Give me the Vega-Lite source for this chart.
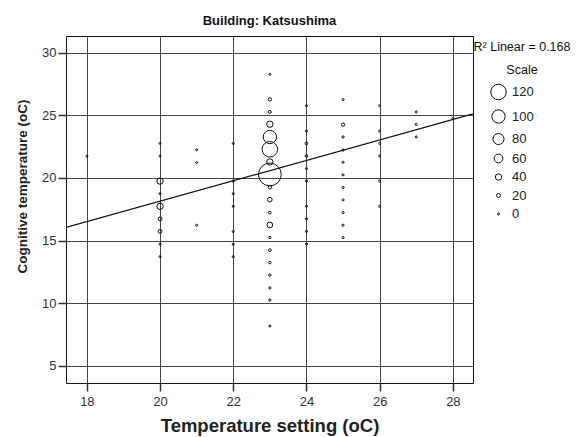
{
  "$schema": "https://vega.github.io/schema/vega-lite/v6.json",
  "width": 407,
  "height": 347,
  "autosize": "none",
  "padding": {"left": 66, "top": 36, "right": 106, "bottom": 54},
  "background": "white",
  "title": {
    "text": "Building: Katsushima",
    "font": "Liberation Sans",
    "fontSize": 13,
    "fontWeight": "bold",
    "color": "#111",
    "anchor": "middle",
    "baseline": "alphabetic",
    "offset": -2
  },
  "config": {
    "view": {"stroke": "#111", "strokeWidth": 1},
    "axis": {
      "labelFont": "Liberation Sans",
      "labelFontSize": 13,
      "labelColor": "#333",
      "tickColor": "#333",
      "tickSize": 8,
      "tickWidth": 1.5,
      "domain": false,
      "grid": true,
      "gridColor": "#444",
      "gridWidth": 1,
      "gridOpacity": 1,
      "titleFont": "Liberation Sans",
      "titleFontWeight": "bold",
      "titleColor": "#222"
    },
    "legend": {
      "labelFont": "Liberation Sans",
      "titleFont": "Liberation Sans"
    }
  },
  "datasets": {
    "pts": [
      {"setting": 18, "cognitive": 21.74, "n": 1},
      {"setting": 20, "cognitive": 22.76, "n": 1},
      {"setting": 20, "cognitive": 21.74, "n": 1},
      {"setting": 20, "cognitive": 19.75, "n": 40},
      {"setting": 20, "cognitive": 18.75, "n": 2},
      {"setting": 20, "cognitive": 17.74, "n": 40},
      {"setting": 20, "cognitive": 16.74, "n": 20},
      {"setting": 20, "cognitive": 15.74, "n": 20},
      {"setting": 20, "cognitive": 14.72, "n": 3},
      {"setting": 20, "cognitive": 13.72, "n": 3},
      {"setting": 21, "cognitive": 22.25, "n": 1},
      {"setting": 21, "cognitive": 21.23, "n": 1},
      {"setting": 21, "cognitive": 16.23, "n": 1},
      {"setting": 22, "cognitive": 22.76, "n": 3},
      {"setting": 22, "cognitive": 19.76, "n": 5},
      {"setting": 22, "cognitive": 18.75, "n": 3},
      {"setting": 22, "cognitive": 17.74, "n": 3},
      {"setting": 22, "cognitive": 15.73, "n": 3},
      {"setting": 22, "cognitive": 14.71, "n": 3},
      {"setting": 22, "cognitive": 13.72, "n": 3},
      {"setting": 23, "cognitive": 28.27, "n": 2},
      {"setting": 23, "cognitive": 26.27, "n": 15},
      {"setting": 23, "cognitive": 25.27, "n": 12},
      {"setting": 23, "cognitive": 24.29, "n": 40},
      {"setting": 23, "cognitive": 23.27, "n": 100},
      {"setting": 23, "cognitive": 22.29, "n": 120},
      {"setting": 23, "cognitive": 21.28, "n": 40},
      {"setting": 23, "cognitive": 20.28, "n": 190},
      {"setting": 23, "cognitive": 19.26, "n": 15},
      {"setting": 23, "cognitive": 18.27, "n": 25},
      {"setting": 23, "cognitive": 17.24, "n": 10},
      {"setting": 23, "cognitive": 16.25, "n": 35},
      {"setting": 23, "cognitive": 15.25, "n": 5},
      {"setting": 23, "cognitive": 14.24, "n": 10},
      {"setting": 23, "cognitive": 13.25, "n": 8},
      {"setting": 23, "cognitive": 12.25, "n": 8},
      {"setting": 23, "cognitive": 11.23, "n": 5},
      {"setting": 23, "cognitive": 10.26, "n": 5},
      {"setting": 23, "cognitive": 8.19, "n": 3},
      {"setting": 24, "cognitive": 25.77, "n": 2},
      {"setting": 24, "cognitive": 23.75, "n": 3},
      {"setting": 24, "cognitive": 22.76, "n": 10},
      {"setting": 24, "cognitive": 21.76, "n": 10},
      {"setting": 24, "cognitive": 20.75, "n": 3},
      {"setting": 24, "cognitive": 19.76, "n": 3},
      {"setting": 24, "cognitive": 17.74, "n": 3},
      {"setting": 24, "cognitive": 16.74, "n": 3},
      {"setting": 24, "cognitive": 15.74, "n": 3},
      {"setting": 24, "cognitive": 14.73, "n": 3},
      {"setting": 25, "cognitive": 26.26, "n": 2},
      {"setting": 25, "cognitive": 24.26, "n": 15},
      {"setting": 25, "cognitive": 23.27, "n": 5},
      {"setting": 25, "cognitive": 22.23, "n": 3},
      {"setting": 25, "cognitive": 21.25, "n": 3},
      {"setting": 25, "cognitive": 20.25, "n": 3},
      {"setting": 25, "cognitive": 19.24, "n": 3},
      {"setting": 25, "cognitive": 18.25, "n": 3},
      {"setting": 25, "cognitive": 17.24, "n": 3},
      {"setting": 25, "cognitive": 16.23, "n": 3},
      {"setting": 25, "cognitive": 15.24, "n": 3},
      {"setting": 26, "cognitive": 25.77, "n": 2},
      {"setting": 26, "cognitive": 23.75, "n": 3},
      {"setting": 26, "cognitive": 22.76, "n": 3},
      {"setting": 26, "cognitive": 21.76, "n": 3},
      {"setting": 26, "cognitive": 19.76, "n": 3},
      {"setting": 26, "cognitive": 17.74, "n": 3},
      {"setting": 27, "cognitive": 25.27, "n": 3},
      {"setting": 27, "cognitive": 24.28, "n": 5},
      {"setting": 27, "cognitive": 23.27, "n": 3},
      {"setting": 28, "cognitive": 24.76, "n": 2}
    ],
    "fit": [
      {"setting": 17.43, "cognitive": 16.05},
      {"setting": 28.55, "cognitive": 25.11}
    ]
  },
  "layer": [
    {
      "data": {"name": "fit"},
      "mark": {"type": "line", "color": "#111", "strokeWidth": 1.2, "clip": true},
      "encoding": {
        "x": {"field": "setting", "type": "quantitative"},
        "y": {"field": "cognitive", "type": "quantitative"}
      }
    },
    {
      "data": {"name": "pts"},
      "mark": {"type": "point", "shape": "circle", "filled": false, "stroke": "#111", "strokeWidth": 1, "opacity": 1},
      "encoding": {
        "x": {
          "field": "setting",
          "type": "quantitative",
          "scale": {"domain": [17.43, 28.55], "nice": false, "zero": false},
          "axis": {"values": [18, 20, 22, 24, 26, 28], "title": "Temperature setting (oC)", "titleFontSize": 18.5, "labelPadding": 4, "titlePadding": 8}
        },
        "y": {
          "field": "cognitive",
          "type": "quantitative",
          "scale": {"domain": [3.64, 31.33], "nice": false, "zero": false},
          "axis": {"values": [5, 10, 15, 20, 25, 30], "title": "Cognitive temperature (oC)", "titleFontSize": 13.5, "labelPadding": 2, "titleX": -37, "titleY": 150}
        },
        "size": {
          "field": "n",
          "type": "quantitative",
          "scale": {"type": "pow", "exponent": 1.7, "domain": [0, 120], "range": [4, 240]},
          "legend": {
            "title": ["R² Linear = 0.168", "Scale"],
            "titleAlign": "center",
            "titleAnchor": "middle",
            "titleFontWeight": "normal",
            "titleFontSize": 12.5,
            "titleColor": "#111",
            "titleLineHeight": 23,
            "titlePadding": 7,
            "orient": "none",
            "legendX": 408,
            "legendY": 5,
            "padding": 0,
            "values": [120, 100, 80, 60, 40, 20, 0],
            "symbolType": "circle",
            "symbolStrokeColor": "#111",
            "symbolFillColor": "transparent",
            "symbolStrokeWidth": 1,
            "symbolOffset": -20,
            "labelFontSize": 13,
            "labelColor": "#222",
            "labelOffset": 5,
            "rowPadding": 4.5
          }
        }
      }
    }
  ]
}
